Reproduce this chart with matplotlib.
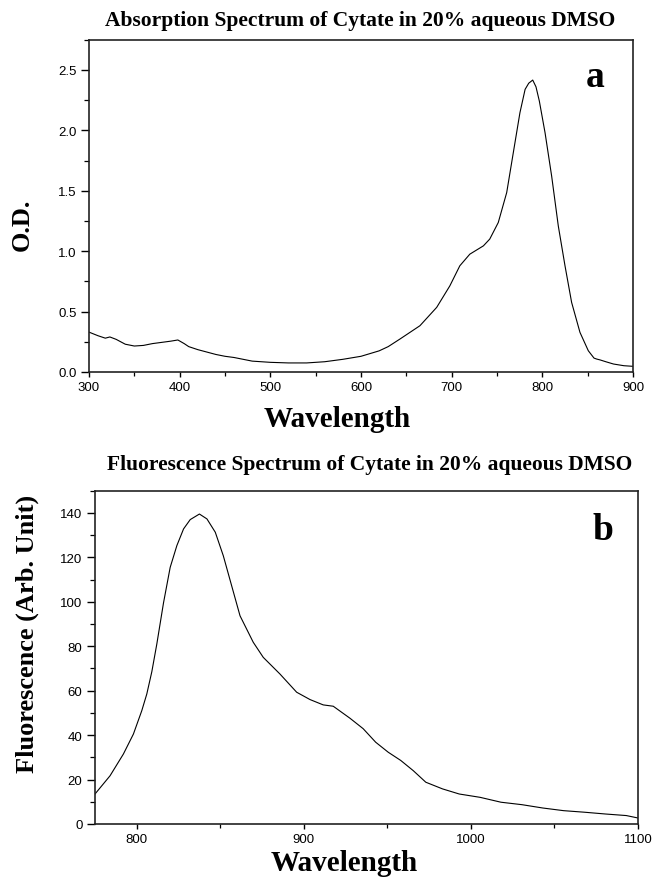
import matplotlib
matplotlib.use("Agg")
import matplotlib.pyplot as plt
from matplotlib.ticker import MultipleLocator

# ---- Data: absorption spectrum (panel a) ----
abs_wavelength = [300, 310, 318, 323, 330, 340, 350, 360, 370, 380, 390, 398,
                  405, 410, 420, 430, 440, 450, 460, 470, 480, 500, 520, 540,
                  560, 580, 600, 620, 630, 643, 665, 683.5, 698, 709, 720, 735,
                  742, 751.4, 760.7, 768, 775.3, 781, 785, 789.4, 793, 796.7,
                  803, 810.3, 817.6, 825, 832.3, 841.5, 850.7, 857, 860, 863.7,
                  870, 878.5, 890, 900]
abs_od = [0.33, 0.30, 0.28, 0.29, 0.27, 0.23, 0.215, 0.22, 0.235, 0.245, 0.255, 0.265,
          0.235, 0.21, 0.185, 0.165, 0.145, 0.13, 0.12, 0.105, 0.09, 0.08, 0.075, 0.075,
          0.085, 0.105, 0.13, 0.175, 0.21, 0.273, 0.383, 0.535, 0.713, 0.879, 0.975, 1.044,
          1.10, 1.237, 1.485, 1.816, 2.146, 2.339, 2.39, 2.416, 2.36, 2.242,
          1.98, 1.62, 1.209, 0.879, 0.576, 0.328, 0.176, 0.115, 0.107, 0.10,
          0.085, 0.066, 0.052, 0.047]

# ---- Data: fluorescence spectrum (panel b) ----
fl_wavelength = [775, 784, 792, 798, 803, 806, 809, 812, 816, 820, 824, 828, 832,
                 837.5, 842, 847, 851.8, 856.8, 861.8, 869.7, 875.7, 885.7, 895.7,
                 903.7, 911.6, 917.6, 927.6, 935.5, 943, 950.5, 958, 965.5, 973,
                 983, 993, 1005.5, 1018, 1030.5, 1043, 1055.5, 1068, 1080.5, 1093,
                 1100]
fl_intensity = [13.5, 21.7, 31.5, 40.5, 51, 58.5, 68.5, 81, 99.5, 115.5, 125.3, 132.8, 137,
                139.5, 137.3, 131.3, 120.7, 107.2, 93.7, 81.8, 75, 67.5, 59.3,
                56, 53.6, 53, 47.6, 42.9, 36.8, 32.3, 28.6, 24, 18.8,
                15.8, 13.5, 12, 9.8, 8.7, 7.2, 6, 5.3, 4.5, 3.8,
                2.7]

abs_title = "Absorption Spectrum of Cytate in 20% aqueous DMSO"
fl_title = "Fluorescence Spectrum of Cytate in 20% aqueous DMSO"

serif = ["Liberation Serif", "DejaVu Serif"]
sans = ["Liberation Sans", "DejaVu Sans"]

W, H = 654, 878
fig = plt.figure(figsize=(W / 100, H / 100), dpi=100)

def style_axes(ax):
    for s in ax.spines.values():
        s.set_linewidth(1.2)
        s.set_color("#222222")
    ax.tick_params(which="both", top=False, right=False, direction="out",
                   labelsize=9.5)
    ax.tick_params(axis="x", which="major", length=3.8, width=1.0, pad=3)
    ax.tick_params(axis="x", which="minor", length=2.8, width=0.9)
    ax.tick_params(axis="y", which="major", length=5.5, width=1.0, pad=3.5)
    ax.tick_params(axis="y", which="minor", length=3.5, width=0.9)
    for lab in ax.get_xticklabels() + ax.get_yticklabels():
        lab.set_fontfamily(sans)

# ---- Panel a ----
ax1 = fig.add_axes([89 / W, 1 - 373 / H, (633 - 89) / W, (373 - 40.7) / H])
ax1.plot(abs_wavelength, abs_od, color="black", lw=0.8)
ax1.set_xlim(300, 900)
ax1.set_ylim(0, 2.75)
ax1.xaxis.set_major_locator(MultipleLocator(100))
ax1.xaxis.set_minor_locator(MultipleLocator(50))
ax1.yaxis.set_major_locator(MultipleLocator(0.5))
ax1.yaxis.set_minor_locator(MultipleLocator(0.25))
ax1.yaxis.set_major_formatter(plt.FormatStrFormatter("%.1f"))
style_axes(ax1)
ax1.text(0.93, 0.86, "a", transform=ax1.transAxes, fontsize=27,
         fontweight="bold", family=serif, ha="center", va="baseline")

# ---- Panel b ----
ax2 = fig.add_axes([95 / W, 1 - 825 / H, (638 - 95) / W, (825 - 491.7) / H])
ax2.plot(fl_wavelength, fl_intensity, color="black", lw=0.8)
ax2.set_xlim(775, 1100)
ax2.set_ylim(0, 150)
ax2.xaxis.set_major_locator(MultipleLocator(100))
ax2.xaxis.set_minor_locator(MultipleLocator(50))
ax2.yaxis.set_major_locator(MultipleLocator(20))
ax2.yaxis.set_minor_locator(MultipleLocator(10))
style_axes(ax2)
ax2.text(0.935, 0.855, "b", transform=ax2.transAxes, fontsize=27,
         fontweight="bold", family=serif, ha="center", va="baseline")

# ---- Titles and axis labels (figure coordinates) ----
fig.text(360 / W, 1 - 26 / H, abs_title, fontsize=15.5, fontweight="bold",
         family=serif, ha="center", va="baseline")
fig.text(370 / W, 1 - 470 / H, fl_title, fontsize=15.5, fontweight="bold",
         family=serif, ha="center", va="baseline")

fig.text(337 / W, 1 - 427 / H, "Wavelength", fontsize=21, fontweight="bold",
         family=serif, ha="center", va="baseline")
fig.text(344 / W, 1 - 871 / H, "Wavelength", fontsize=21, fontweight="bold",
         family=serif, ha="center", va="baseline")

fig.text(22 / W, 1 - 225 / H, "O.D.", fontsize=19, fontweight="bold",
         family=serif, ha="center", va="center", rotation=90)
fig.text(27 / W, 1 - 634 / H, "Fluorescence (Arb. Unit)", fontsize=19,
         fontweight="bold", family=serif, ha="center", va="center", rotation=90)

fig.savefig("out.png", dpi=100)
